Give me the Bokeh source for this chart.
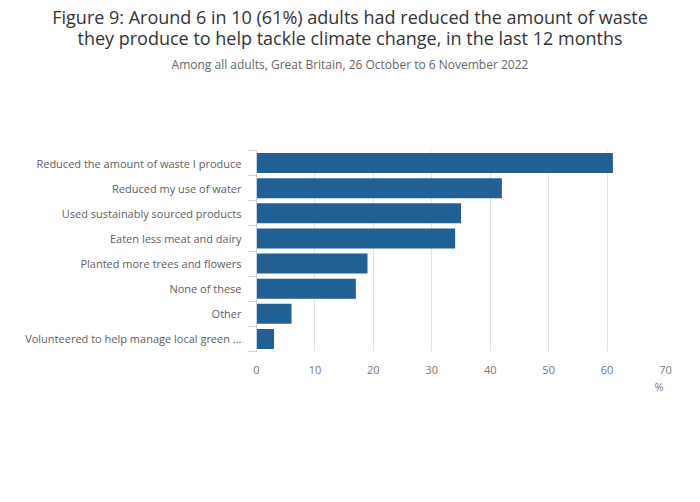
from bokeh.plotting import figure
from bokeh.models import Range1d, FixedTicker, Title, Div
from bokeh.layouts import column
from bokeh.embed import file_html
from bokeh.resources import INLINE

# ---- data ----
categories = [
    "Reduced the amount of waste I produce",
    "Reduced my use of water",
    "Used sustainably sourced products",
    "Eaten less meat and dairy",
    "Planted more trees and flowers",
    "None of these",
    "Other",
    "Volunteered to help manage local green ...",
]
values = [61, 42, 35, 34, 19, 17, 6, 3]
x_ticks = [0, 10, 20, 30, 40, 50, 60, 70]

title_lines = [
    "Figure 9: Around 6 in 10 (61%) adults had reduced the amount of waste",
    "they produce to help tackle climate change, in the last 12 months",
]
subtitle = "Among all adults, Great Britain, 26 October to 6 November 2022"
x_unit = "%"

FONT = "Open Sans"
BLUE = "#206095"

W, H = 700, 502
HEAD_H = 120
LEFT, RIGHT, TOP, BOTTOM = 256, 35, 150 - HEAD_H, 151

# ---- heading block ----
head_html = (
    f"<div style=\"font-family:'{FONT}',sans-serif;width:{W}px;text-align:center;margin:0;padding:0;\">"
    f"<div style=\"font-size:18px;line-height:21px;color:#333333;padding-top:7px;\">"
    f"{title_lines[0]}<br>{title_lines[1]}</div>"
    f"<div style=\"font-size:12px;line-height:16px;color:#666666;margin-top:8px;\">"
    f"{subtitle}</div></div>"
)
head = Div(text=head_html, width=W, height=HEAD_H, margin=0,
           styles={"margin": "0", "padding": "0"})

# ---- main chart ----
n = len(categories)
centers = [n - i - 0.5 for i in range(n)]
bounds = [float(k) for k in range(n + 1)]

p = figure(width=W, height=H - HEAD_H, output_backend="svg", toolbar_location=None,
           title=None,
           x_range=Range1d(x_ticks[0], x_ticks[-1]), y_range=Range1d(0, n),
           min_border_left=LEFT, min_border_right=RIGHT,
           min_border_top=TOP, min_border_bottom=BOTTOM, margin=0)
p.outline_line_color = None
p.background_fill_color = "white"
p.border_fill_color = "white"

p.hbar(y=centers, right=values, left=0, height=0.8, color=BLUE, line_color=None)

p.xaxis.ticker = FixedTicker(ticks=x_ticks)
p.xaxis.axis_line_color = None
p.xaxis.major_tick_line_color = None
p.xaxis.minor_tick_line_color = None
p.xaxis.major_label_standoff = 8
p.xaxis.major_label_text_font = FONT
p.xaxis.major_label_text_font_size = "11px"
p.xaxis.major_label_text_color = "#777777"
p.xgrid.ticker = FixedTicker(ticks=x_ticks)
p.xgrid.grid_line_color = "#e3e3e3"
p.xgrid.grid_line_width = 1

p.yaxis.ticker = FixedTicker(ticks=centers, minor_ticks=bounds)
p.yaxis.major_label_overrides = {c: lab for c, lab in zip(centers, categories)}
p.yaxis.axis_line_color = "#c8d2e3"
p.yaxis.major_tick_line_color = None
p.yaxis.major_tick_out = 0
p.yaxis.major_tick_in = 0
p.yaxis.minor_tick_line_color = "#c8d2e3"
p.yaxis.minor_tick_out = 8
p.yaxis.minor_tick_in = 0
p.yaxis.major_label_standoff = 7
p.yaxis.major_label_text_font = FONT
p.yaxis.major_label_text_font_size = "11px"
p.yaxis.major_label_text_color = "#606060"
p.ygrid.grid_line_color = None

# unit label below the x axis, right-aligned to the frame
p.add_layout(Title(text=x_unit, align="right", offset=2, standoff=0,
                   text_font=FONT, text_font_size="11px", text_font_style="normal",
                   text_color="#777777"), "below")

layout = column(head, p, spacing=0)
open("out.html", "w").write(file_html(layout, INLINE))
